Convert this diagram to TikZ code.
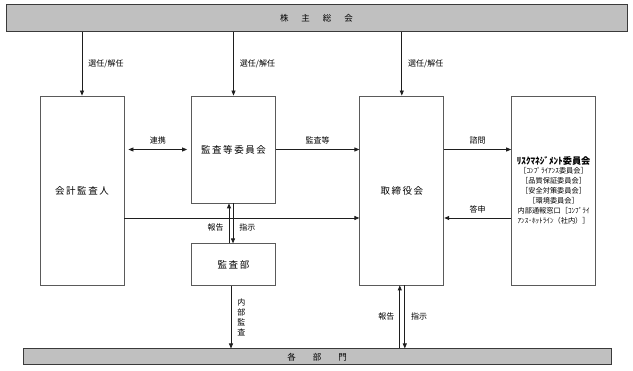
\documentclass[tikz,border=0pt]{standalone}
\usepackage{fontspec}
\setmainfont{Noto Sans CJK JP}
\newfontfamily\orgfont[LetterSpace=16]{Noto Sans CJK JP}
\usepackage{tikz}
\usetikzlibrary{arrows.meta,positioning}
\usepackage{xcolor}
\definecolor{bargray}{HTML}{C0C0C0}
\definecolor{barline}{HTML}{3A3A3A}
\definecolor{boxline}{HTML}{5A5A5A}
\definecolor{linkline}{HTML}{1E1E1E}
\tikzset{
  graybar/.style={
    draw=barline,
    fill=bargray,
    line width=1pt,
    inner sep=0pt,
    font=\fontsize{8.5}{10}\selectfont
  },
  orgbox/.style={
    draw=boxline,
    fill=white,
    line width=0.8pt,
    minimum width=84pt,
    inner sep=0pt,
    align=center,
    font=\orgfont\fontsize{9.5}{11}\selectfont
  },
  arrow/.style={
    -{Triangle[length=5pt,width=4pt]},
    line width=0.8pt,
    draw=linkline
  },
  both/.style={
    {Triangle[length=5pt,width=4pt]}-{Triangle[length=5pt,width=4pt]}
  },
  lbl/.style={
    inner sep=1pt,
    align=center,
    font=\fontsize{8}{9.7}\selectfont
  }
}

\begin{document}
\begin{tikzpicture}[x=1pt,y=-1pt]
\useasboundingbox (0,0) rectangle (633,371);
% general meeting and departments
\node[graybar, minimum width=621pt, minimum height=27pt] (meeting) at (316.5,18.5) {株\hspace{13pt}主\hspace{13pt}総\hspace{13pt}会};
\node[graybar, minimum width=588pt, minimum height=16pt] (depts) at (317,357) {各\hspace{17pt}部\hspace{17pt}門};
% boxes
\node[orgbox, minimum height=189pt] (accountant) at (82,190.5) {会計監査人};
\node[orgbox, minimum height=107pt] (committee) at (233.5,149.5) {監査等委員会};
\node[orgbox, minimum height=42pt, below=40pt of committee] (auditdept) {監査部};
\node[orgbox, minimum height=189pt, right=235pt of accountant] (board) {取締役会};
\node[orgbox, minimum height=189pt, right=67pt of board, font=\fontsize{7.2}{10}\selectfont] (riskcom)
  {{\bfseries\fontsize{9.2}{10}\selectfont ﾘｽｸﾏﾈｼﾞﾒﾝﾄ委員会}\\[-1pt]
   ［ｺﾝﾌﾟﾗｲｱﾝｽ委員会］\\
   ［品質保証委員会］\\
   ［安全対策委員会］\\
   ［環境委員会］\\
   内部通報窓口［ｺﾝﾌﾟﾗｲ\\
   ｱﾝｽ･ﾎｯﾄﾗｲﾝ（社内）］};
% appointment
\draw[arrow] (meeting.south -| accountant) -- node[lbl, right=5pt] {選任/解任} (accountant.north);
\draw[arrow] (meeting.south -| committee) -- node[lbl, right=5pt] {選任/解任} (committee.north);
\draw[arrow] (meeting.south -| board) -- node[lbl, right=5pt] {選任/解任} (board.north);
% upper row
\draw[arrow, both, shorten <=4pt, shorten >=4pt] (accountant.east |- committee.west) -- node[lbl, above=4pt] {連携} (committee.west);
\draw[arrow] (committee.east) -- node[lbl, above=4pt] {監査等} (committee.east -| board.west);
\draw[arrow] (board.east |- committee.east) -- node[lbl, above=4pt] {諮問} (riskcom.west |- committee.east);
% middle row
\coordinate (crossline) at (0,218);
\draw[arrow] (accountant.east |- crossline) -- (board.west |- crossline);
\draw[arrow] (riskcom.west |- crossline) -- node[lbl, above=3pt] {答申} (board.east |- crossline);
% audit department
\draw[arrow] ([xshift=-4.5pt]auditdept.north) -- node[lbl, left=4pt, pos=0.4] {報告} ([xshift=-4.5pt]committee.south);
\draw[arrow] ([xshift=-0.5pt]committee.south) -- node[lbl, right=5pt, pos=0.6] {指示} ([xshift=-0.5pt]auditdept.north);
\draw[arrow] ([xshift=-2.5pt]auditdept.south) -- node[lbl, right=5pt] {内\\部\\監\\査} ([xshift=-2.5pt]auditdept.south |- depts.north);
% board and departments
\draw[arrow] ([xshift=-2pt]board.south |- depts.north) -- node[lbl, left=4pt] {報告} ([xshift=-2pt]board.south);
\draw[arrow] ([xshift=3pt]board.south) -- node[lbl, right=5pt] {指示} ([xshift=3pt]board.south |- depts.north);
\end{tikzpicture}
\end{document}
